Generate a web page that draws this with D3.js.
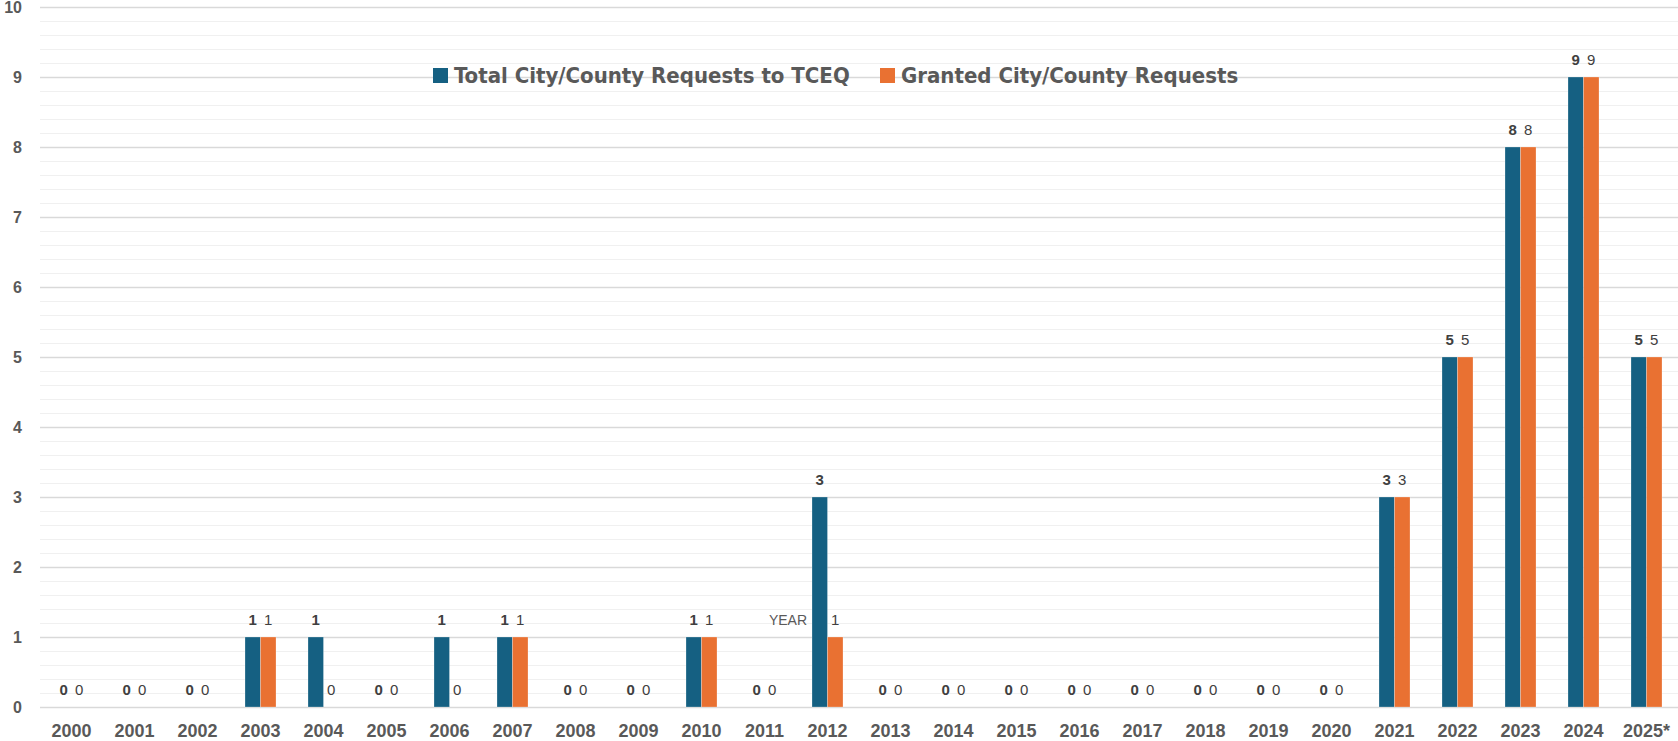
<!DOCTYPE html>
<html>
<head>
<meta charset="utf-8">
<script src="https://cdn.jsdelivr.net/npm/d3@7"></script>
<style>
  body { margin: 0; background: #fff; overflow: hidden; }
  svg { display: block; }
</style>
</head>
<body>
<svg id="chart" width="1678" height="741"></svg>
<script>
// data
var years   = ["2000","2001","2002","2003","2004","2005","2006","2007","2008","2009","2010","2011","2012",
               "2013","2014","2015","2016","2017","2018","2019","2020","2021","2022","2023","2024","2025*"];
var total   = [0,0,0,1,1,0,1,1,0,0,1,0,3,0,0,0,0,0,0,0,0,3,5,8,9,5];
var granted = [0,0,0,1,0,0,0,1,0,0,1,0,1,0,0,0,0,0,0,0,0,3,5,8,9,5];
var seriesNames = ["Total City/County Requests to TCEQ", "Granted City/County Requests"];
var yTicks  = [0,1,2,3,4,5,6,7,8,9,10];

var width      = 1678,
    height     = 741,
    plotLeft   = 40,
    plotTop    = 7,
    plotBottom = 707;

var colors = ["#156082", "#E97132"];
var textColor = "#595959";

var svg = d3.select("#chart");

var x  = d3.scaleBand().domain(years).range([plotLeft, width]).paddingInner(0.508).paddingOuter(0.254);
var xs = d3.scaleBand().domain([0, 1]).range([0, x.bandwidth()]);
var y  = d3.scaleLinear().domain([0, 10]).range([plotBottom, plotTop]);

// minor gridlines
svg.append("g")
    .selectAll("line")
    .data(d3.range(0, 10.01, 0.2).filter(function (d) { return Math.abs(d - Math.round(d)) > 0.01; }))
    .enter()
    .append("line")
    .attr("x1", plotLeft).attr("x2", width)
    .attr("y1", function (d) { return Math.round(y(d)) + 0.5; })
    .attr("y2", function (d) { return Math.round(y(d)) + 0.5; })
    .attr("stroke", "#f0f0f0")
    .attr("stroke-width", 1);

// major gridlines + y labels
var yAxis = svg.append("g")
    .attr("transform", "translate(" + plotLeft + ",0)")
    .call(d3.axisLeft(y).tickValues(yTicks).tickSize(-(width - plotLeft)).tickPadding(18).tickFormat(d3.format("d")));
yAxis.select(".domain").remove();
yAxis.selectAll(".tick line").attr("stroke", "#d9d9d9").attr("stroke-width", 1.5);
yAxis.selectAll(".tick text")
    .attr("fill", textColor)
    .style("font", "bold 16px 'Liberation Sans', Arial, sans-serif");

// x labels
var xAxis = svg.append("g")
    .attr("transform", "translate(0," + plotBottom + ")")
    .call(d3.axisBottom(x).tickSize(0).tickPadding(17));
xAxis.select(".domain").remove();
xAxis.selectAll(".tick text")
    .attr("fill", textColor)
    .style("font", "bold 18px 'Liberation Sans', Arial, sans-serif");

// bars
var rows = years.map(function (yr, i) { return { year: yr, vals: [total[i], granted[i]] }; });

var groups = svg.append("g")
    .selectAll("g")
    .data(rows)
    .enter()
    .append("g")
    .attr("transform", function (d) { return "translate(" + x(d.year) + ",0)"; });

groups.selectAll("rect")
    .data(function (d) { return d.vals; })
    .enter()
    .append("rect")
    .attr("x", function (d, i) { return xs(i); })
    .attr("width", xs.bandwidth())
    .attr("y", function (d) { return y(d); })
    .attr("height", function (d) { return plotBottom - y(d); })
    .attr("fill", function (d, i) { return colors[i]; })
    .attr("stroke", "#ffffff")
    .attr("stroke-opacity", 0.5)
    .attr("stroke-width", 0.5)
    .style("display", function (d) { return d > 0 ? null : "none"; });

groups.selectAll("text")
    .data(function (d) { return d.vals; })
    .enter()
    .append("text")
    .attr("x", function (d, i) { return xs(i) + xs.bandwidth() / 2; })
    .attr("y", function (d) { return y(d) - 12; })
    .attr("text-anchor", "middle")
    .attr("fill", "#404040")
    .style("font", function (d, i) { return (i === 0 ? "bold " : "") + "15px 'Liberation Sans', Arial, sans-serif"; })
    .text(function (d) { return d; });

// stray axis title
svg.append("text")
    .attr("x", 807)
    .attr("y", 625)
    .attr("text-anchor", "end")
    .attr("fill", textColor)
    .style("font", "14px 'Liberation Sans', Arial, sans-serif")
    .text("YEAR");

// legend
var legendX = [433, 880];
var legend = svg.append("g")
    .selectAll("g")
    .data(seriesNames)
    .enter()
    .append("g")
    .attr("transform", function (d, i) { return "translate(" + legendX[i] + ",68)"; });

legend.append("rect")
    .attr("width", 15).attr("height", 15)
    .attr("fill", function (d, i) { return colors[i]; });

legend.append("text")
    .attr("x", 21)
    .attr("y", 15)
    .attr("fill", textColor)
    .style("font", "bold 22px 'Liberation Sans Narrow', 'DejaVu Sans Condensed', sans-serif")
    .text(function (d) { return d; });
</script>
</body>
</html>
